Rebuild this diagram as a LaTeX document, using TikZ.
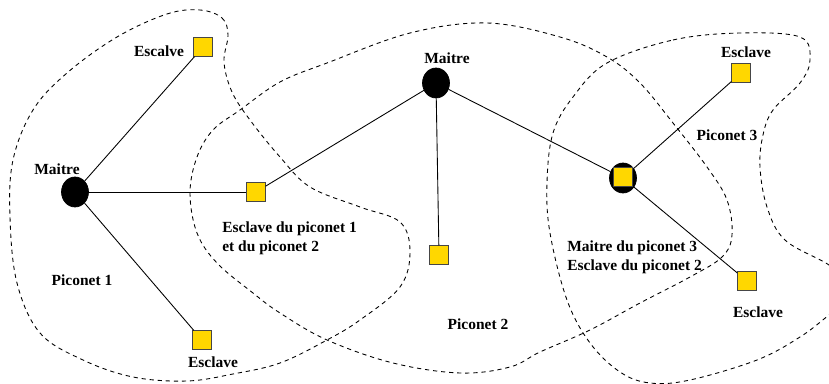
\documentclass[tikz,border=0pt]{standalone}
\usepackage{fontspec}
\setmainfont{Liberation Serif}
\usetikzlibrary{shapes.geometric}

\definecolor{jaune}{RGB}{255,215,0}
\definecolor{bord}{RGB}{70,70,70}

\tikzset{
  maitre/.style={ellipse,fill=black,draw=black,minimum width=0.54cm,minimum height=0.6cm,inner sep=0pt},
  esclave/.style={rectangle,fill=jaune,draw=bord,minimum size=0.37cm,inner sep=0pt},
  lien/.style={draw=black,line width=0.5pt},
  zone/.style={dash pattern=on 2.4pt off 2.2pt,line width=0.5pt},
  etiq/.style={font=\fontsize{8.8}{11}\selectfont\bfseries,inner sep=0pt}
}

\begin{document}
\begin{tikzpicture}[x=0.02cm,y=-0.02cm]
  \useasboundingbox (0,0) rectangle (829,384);
  \clip (0,0) rectangle (829,384);

  % piconet 1
  \draw[zone] plot[smooth cycle,tension=0.6] coordinates {
    (200,10) (222,18) (228,35) (224,62) (232,92) (250,120) (280,157)
    (310,187) (360,207) (400,222) (410,252) (400,287) (360,320)
    (327,340) (280,363) (233,374) (187,381) (133,377) (83,360)
    (40,333) (17,283) (10,217) (13,160) (33,110) (67,73) (117,37) (167,14)};

  % piconet 2
  \draw[zone] plot[smooth cycle,tension=0.6] coordinates {
    (190,193) (197,157) (213,130) (240,110) (280,82) (327,63) (410,33)
    (487,23) (560,37) (607,57) (640,83) (673,123) (707,167) (727,200)
    (732,235) (722,257) (690,277) (640,303) (590,330) (540,352)
    (510,367) (460,373) (393,363) (327,340) (280,313) (253,293)
    (217,263) (197,233)};

  % piconet 3
  \draw[zone] plot[smooth cycle,tension=0.6] coordinates {
    (607,63) (673,40) (740,33) (800,37) (810,60) (800,83) (773,110)
    (763,135) (760,167) (767,207) (785,240) (829,265) (860,290)
    (829,315) (800,337) (757,360) (690,380) (650,383) (620,372)
    (590,343) (567,300) (550,233) (547,183) (553,133) (573,97)};

  % noeuds
  \node[maitre] (m1) at (75,192) {};
  \node[maitre] (m2) at (436,83) {};
  \node[maitre] (m3) at (623,178) {};
  \node[esclave] (s3) at (623,177) {};

  \node[esclave] (e1) at (203,47) {};
  \node[esclave] (e2) at (256,192) {};
  \node[esclave] (e3) at (202,340) {};
  \node[esclave] (e4) at (439,255) {};
  \node[esclave] (e5) at (741,73) {};
  \node[esclave] (e6) at (747,281) {};

  % liens
  \draw[lien] (m1) -- (e1);
  \draw[lien] (m1) -- (e2);
  \draw[lien] (m1) -- (e3);
  \draw[lien] (e2) -- (m2);
  \draw[lien] (m2) -- (e4);
  \draw[lien] (m2) -- (m3);
  \draw[lien] (m3) -- (e5);
  \draw[lien] (m3) -- (e6);

  % textes
  \node[etiq] (t1) at (159,51) {Escalve};
  \node[etiq] (t2) at (57,169) {Maitre};
  \node[etiq] (t3) at (82,280) {Piconet 1};
  \node[etiq] (t4) at (213,362) {Esclave};
  \node[etiq,align=left,anchor=west] (t5) at (222,238) {Esclave du piconet 1\\et du piconet 2};
  \node[etiq] (t6) at (447,58) {Maitre};
  \node[etiq] (t7) at (478,324) {Piconet 2};
  \node[etiq] (t8) at (746,52) {Esclave};
  \node[etiq] (t9) at (727,135) {Piconet 3};
  \node[etiq,align=left,anchor=west] (t10) at (567,257) {Maitre du piconet 3\\Esclave du piconet 2};
  \node[etiq] (t11) at (758,312) {Esclave};
\end{tikzpicture}
\end{document}
